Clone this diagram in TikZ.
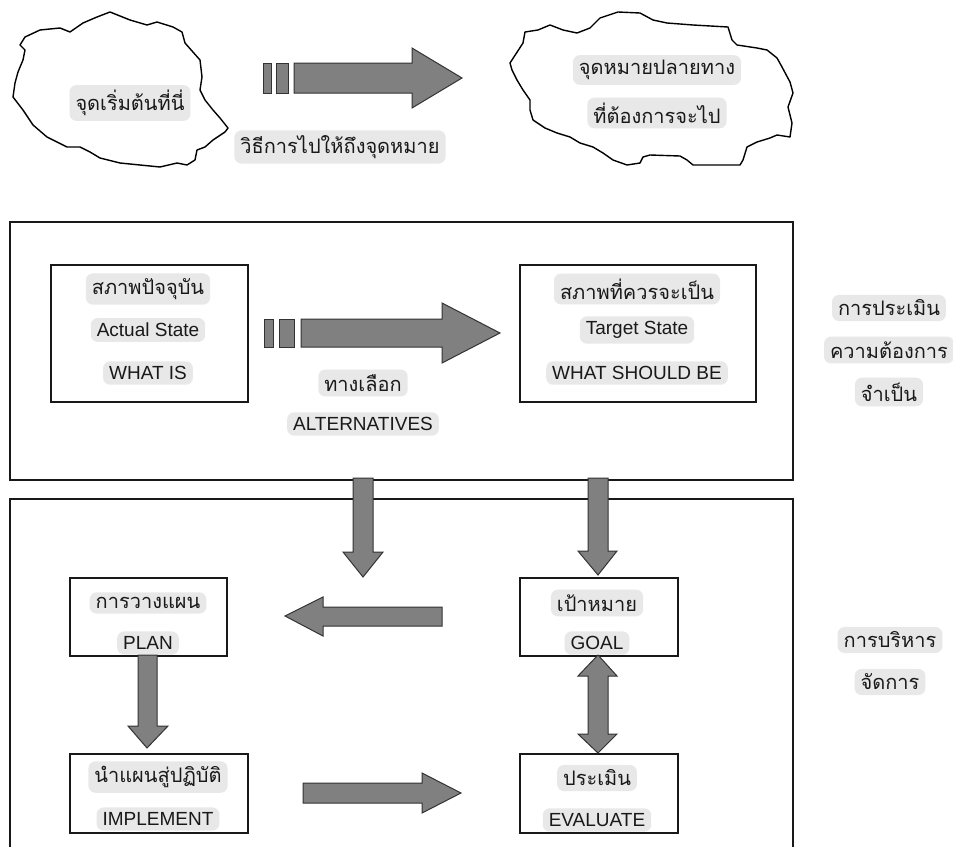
\documentclass[tikz,border=0pt]{standalone}
\usepackage{fontspec}
\setmainfont{Liberation Sans}
\newfontfamily\thaifont[Script=Thai]{Loma}
\tikzset{
  lbl/.style={fill=black!9, rounded corners=7pt, inner xsep=6pt, inner ysep=5pt, text=black!90, font=\fontsize{19}{21}\selectfont},
  th/.style={lbl, font=\thaifont\fontsize{20}{22}\selectfont},
  frame/.style={draw=black!90, line width=1.6pt},
  stbox/.style={draw=black!90, line width=1.6pt, fill=white, anchor=north west, inner sep=0pt},
  blk/.style={fill=black!50, draw=black!80, line width=1pt, line join=miter},
  cloudline/.style={draw=black, line width=1.4pt, fill=white, line join=round},
}
\begin{document}
\begin{tikzpicture}[x=1pt,y=-1pt]
\useasboundingbox[fill=white] (0,0) rectangle (953,846);
% clouds
\draw[cloudline] (110,12)--(130,20)--(147,25)--(157,22)--(173,27)--(182,32)--(185,43)--(200,60)--(202,77)--(200,90)--(205,100)--(213,110)--(220,118)--(228,128)--(225,132)--(213,140)--(205,147)--(197,150)--(195,160)--(187,165)--(177,163)--(160,167)--(140,165)--(120,163)--(100,158)--(90,152)--(80,147)--(67,147)--(47,137)--(33,125)--(23,110)--(13,97)--(15,83)--(18,72)--(23,60)--(25,50)--(20,45)--(25,37)--(40,30)--(60,28)--(70,32)--(83,23)--(97,17)--cycle;
\draw[cloudline] (510,63)--(523,43)--(525,32)--(538,30)--(550,25)--(563,30)--(577,33)--(590,28)--(600,18)--(618,12)--(640,13)--(653,20)--(667,23)--(693,25)--(728,27)--(732,40)--(737,45)--(757,48)--(767,50)--(777,58)--(782,67)--(790,82)--(793,93)--(788,107)--(792,123)--(790,137)--(777,135)--(770,138)--(757,142)--(747,147)--(743,160)--(740,165)--(693,165)--(687,160)--(680,156)--(650,155)--(643,157)--(640,163)--(627,165)--(613,160)--(603,153)--(593,147)--(580,143)--(570,137)--(557,133)--(545,128)--(533,120)--(530,110)--(530,100)--(523,90)--(517,80)--(512,70)--cycle;
\node[th] (start) at (130,103) {จุดเริ่มต้นที่นี่};
\node[th] (way) at (340,147) {วิธีการไปให้ถึงจุดหมาย};
\node[th] (destA) at (657,70) {จุดหมายปลายทาง};
\node[th] (destB) at (657,113) {ที่ต้องการจะไป};
% top arrow
\draw[blk] (263,63) rectangle (271,93);
\draw[blk] (276,63) rectangle (288,93);
\draw[blk] (294,63)--(412,63)--(412,48)--(462,78)--(412,108)--(412,93)--(294,93)--cycle;
% frames
\draw[frame] (10,222) rectangle (793,480);
\draw[frame] (10,850)--(10,499)--(793,499)--(793,850);
% state boxes
\node[stbox, minimum width=197pt, minimum height=137pt] (actual) at (50,264) {};
\node[stbox, minimum width=236pt, minimum height=137pt] (target) at (519,264) {};
\node[th] (actualA) at (148,289) {สภาพปัจจุบัน};
\node[lbl] (actualB) at (148,330) {Actual State};
\node[lbl] (actualC) at (148,373) {WHAT IS};
\node[th] (targetA) at (637,289) {สภาพที่ควรจะเป็น};
\node[lbl] (targetB) at (637,330) {Target State};
\node[lbl] (targetC) at (637,373) {WHAT SHOULD BE};
\node[th] (altA) at (363,383) {ทางเลือก};
\node[lbl] (altB) at (363,424) {ALTERNATIVES};
\node[th] (needA) at (889,308) {การประเมิน};
\node[th] (needB) at (889,350) {ความต้องการ};
\node[th] (needC) at (889,392) {จำเป็น};
% alternatives arrow
\draw[blk] (264,319) rectangle (273,347);
\draw[blk] (279,319) rectangle (294,347);
\draw[blk] (301,319)--(442,319)--(442,303)--(500,333)--(442,363)--(442,347)--(301,347)--cycle;
% lower boxes
\node[stbox, minimum width=157pt, minimum height=78pt] (plan) at (69,577) {};
\node[stbox, minimum width=178pt, minimum height=79pt] (impl) at (69,753) {};
\node[stbox, minimum width=158pt, minimum height=78pt] (goal) at (519,577) {};
\node[stbox, minimum width=158pt, minimum height=79pt] (eval) at (519,753) {};
\node[th] (planA) at (148,603) {การวางแผน};
\node[lbl] (planB) at (148,643) {PLAN};
\node[th] (implA) at (158,777) {นำแผนสู่ปฏิบัติ};
\node[lbl] (implB) at (158,819) {IMPLEMENT};
\node[th] (goalA) at (597,603) {เป้าหมาย};
\node[lbl] (goalB) at (597,643) {GOAL};
\node[th] (evalA) at (597,778) {ประเมิน};
\node[lbl] (evalB) at (597,820) {EVALUATE};
\node[th] (mgmtA) at (890,640) {การบริหาร};
\node[th] (mgmtB) at (890,682) {จัดการ};
% block arrows lower
\draw[blk] (353,478)--(373,478)--(373,552)--(383,552)--(363,577)--(343,552)--(353,552)--cycle;
\draw[blk] (588,478)--(608,478)--(608,551)--(617,551)--(598,575)--(578,551)--(588,551)--cycle;
\draw[blk] (442,607)--(323,607)--(323,597)--(285,616)--(323,636)--(323,626)--(442,626)--cycle;
\draw[blk] (138,655)--(157,655)--(157,726)--(168,726)--(147,748)--(128,726)--(138,726)--cycle;
\draw[blk] (303,783)--(422,783)--(422,773)--(461,793)--(422,813)--(422,803)--(303,803)--cycle;
\draw[blk] (598,655)--(617,676)--(608,676)--(608,734)--(617,734)--(598,753)--(578,734)--(588,734)--(588,676)--(578,676)--cycle;
\end{tikzpicture}
\end{document}
